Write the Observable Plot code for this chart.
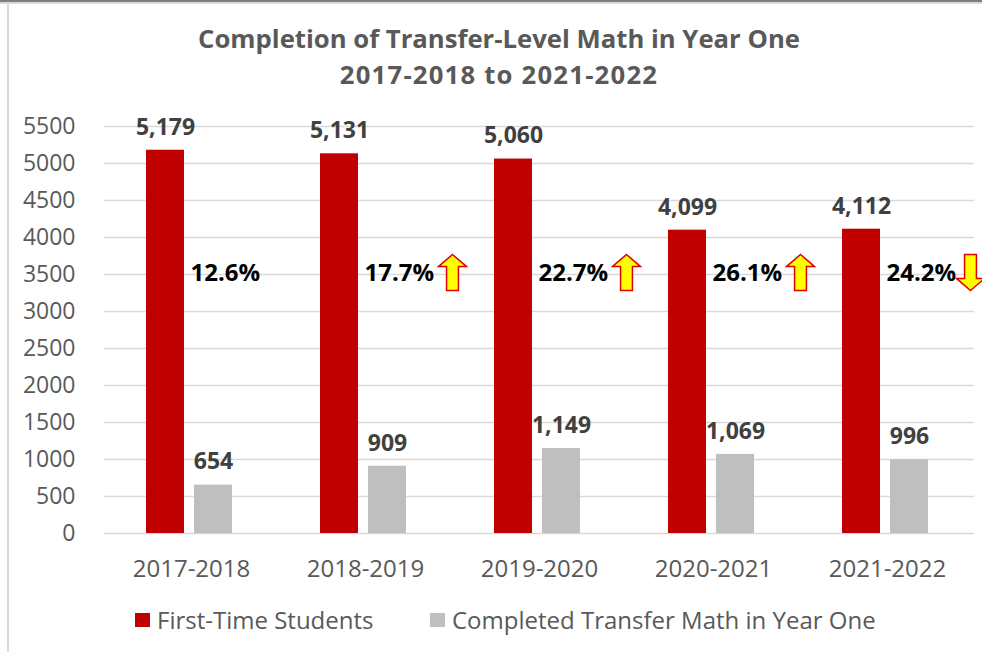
<!DOCTYPE html>
<html>
<head>
<meta charset="utf-8">
<script src="https://cdn.jsdelivr.net/npm/d3@7"></script>
<script src="https://cdn.jsdelivr.net/npm/@observablehq/plot@0.6"></script>
<style>
  html, body { margin: 0; padding: 0; background: #fff; }
  #wrap { position: relative; width: 982px; height: 652px; overflow: hidden; background: #fff; font-family: "Open Sans", sans-serif; }
  #topline { position: absolute; left: 0; top: 0; width: 982px; height: 2px; background: #7f7f7f; }
  #topline2 { position: absolute; left: 0; top: 2px; width: 982px; height: 2px; background: #d9d9d9; }
  #leftline { position: absolute; left: 7px; top: 4px; width: 2px; height: 648px; background: #d9d9d9; }
  .title { position: absolute; left: 0; width: 998px; text-align: center; font-weight: 700; font-size: 25.7px; color: #595959; line-height: 30px; }
  #chart { position: absolute; left: 0; top: 100px; }
  .leg { position: absolute; top: 605px; display: flex; align-items: center; font-size: 24px; color: #595959; line-height: 30px; white-space: nowrap; }
  .sw { width: 15px; height: 14px; margin-right: 7px; }
</style>
</head>
<body>
<div id="wrap">
  <div id="topline"></div><div id="topline2"></div><div id="leftline"></div>
  <div class="title" style="top:24px">Completion of Transfer-Level Math in Year One</div>
  <div class="title" style="top:60px; letter-spacing:1.2px">2017-2018 to 2021-2022</div>
  <div id="chart"></div>
  <div id="legend"></div>
</div>
<script>
const years = ["2017-2018", "2018-2019", "2019-2020", "2020-2021", "2021-2022"];
const seriesNames = ["First-Time Students", "Completed Transfer Math in Year One"];
const firstTime = [5179, 5131, 5060, 4099, 4112];
const completed = [654, 909, 1149, 1069, 996];
const pctLabels = ["12.6%", "17.7%", "22.7%", "26.1%", "24.2%"];
const trend = [null, "up", "up", "up", "down"];
const yTicks = [0, 500, 1000, 1500, 2000, 2500, 3000, 3500, 4000, 4500, 5000, 5500];
const seriesColors = ["#C00000", "#BFBFBF"];

const rows = [];
years.forEach((yr, i) => {
  rows.push({year: yr, series: seriesNames[0], value: firstTime[i]});
  rows.push({year: yr, series: seriesNames[1], value: completed[i]});
});
const pctRows = years.map((yr, i) => ({year: yr, series: seriesNames[0], label: pctLabels[i], trend: trend[i]}));
const arrowRows = pctRows.filter(d => d.trend);
const pctLevel = 3500;

function arrowSymbol(dir) {
  return {
    draw(ctx, size) {
      const r = Math.sqrt(size / Math.PI);
      const s = dir === "up" ? 1 : -1;
      const hw = r * 0.78, sw = r * 0.33, neck = r * 0.33;
      ctx.moveTo(0, -s * r);
      ctx.lineTo(hw, -s * neck);
      ctx.lineTo(sw, -s * neck);
      ctx.lineTo(sw, s * r);
      ctx.lineTo(-sw, s * r);
      ctx.lineTo(-sw, -s * neck);
      ctx.lineTo(-hw, -s * neck);
      ctx.closePath();
    }
  };
}

const fmt = d3.format(",");

const plot = Plot.plot({
  width: 982,
  height: 490,
  marginLeft: 102,
  marginRight: 7,
  marginTop: 26,
  marginBottom: 57,
  style: {fontFamily: "'Open Sans', sans-serif", background: "transparent", overflow: "visible"},
  fx: {domain: years, padding: 0, label: null},
  x: {domain: seriesNames, paddingInner: 0.204, paddingOuter: 0.88, align: 0.48, axis: null},
  y: {domain: [0, 5500], label: null},
  color: {domain: seriesNames, range: seriesColors},
  marks: [
    Plot.ruleY(yTicks, {stroke: "#d9d9d9", strokeWidth: 1.4}),
    Plot.axisY({ticks: yTicks, tickSize: 0, tickPadding: 29, fontSize: 23, color: "#595959", label: null, tickFormat: d => String(d)}),
    Plot.axisFx({anchor: "bottom", tickSize: 0, tickPadding: 26, fontSize: 24, color: "#595959", label: null}),
    Plot.barY(rows, {fx: "year", x: "series", y: "value", fill: "series"}),
    Plot.text(rows, {fx: "year", x: "series", y: "value", text: d => fmt(d.value), dy: -23, fontSize: 23, fontWeight: "bold", fill: "#404040"}),
    Plot.text(pctRows, {fx: "year", x: "series", y: () => pctLevel, text: "label", textAnchor: "start", dx: 25, dy: -1, fontSize: 24, fontWeight: "bold", fill: "#000"}),
    Plot.dot(arrowRows.filter(d => d.trend === "up"), {fx: "year", x: "series", y: () => pctLevel, dx: 113, dy: -2, r: 18, symbol: arrowSymbol("up"), fill: "#FFFF00", stroke: "#E00000", strokeWidth: 1.5}),
    Plot.dot(arrowRows.filter(d => d.trend === "down"), {fx: "year", x: "series", y: () => pctLevel, dx: 109, dy: -2, r: 18, symbol: arrowSymbol("down"), fill: "#FFFF00", stroke: "#E00000", strokeWidth: 1.5})
  ]
});
document.getElementById("chart").appendChild(plot);

const legendPos = [135, 430];
const legend = document.getElementById("legend");
seriesNames.forEach((name, i) => {
  const item = document.createElement("div");
  item.className = "leg";
  item.style.left = legendPos[i] + "px";
  const sw = document.createElement("div");
  sw.className = "sw";
  sw.style.background = seriesColors[i];
  const t = document.createElement("span");
  t.textContent = name;
  item.appendChild(sw);
  item.appendChild(t);
  legend.appendChild(item);
});
</script>
</body>
</html>
